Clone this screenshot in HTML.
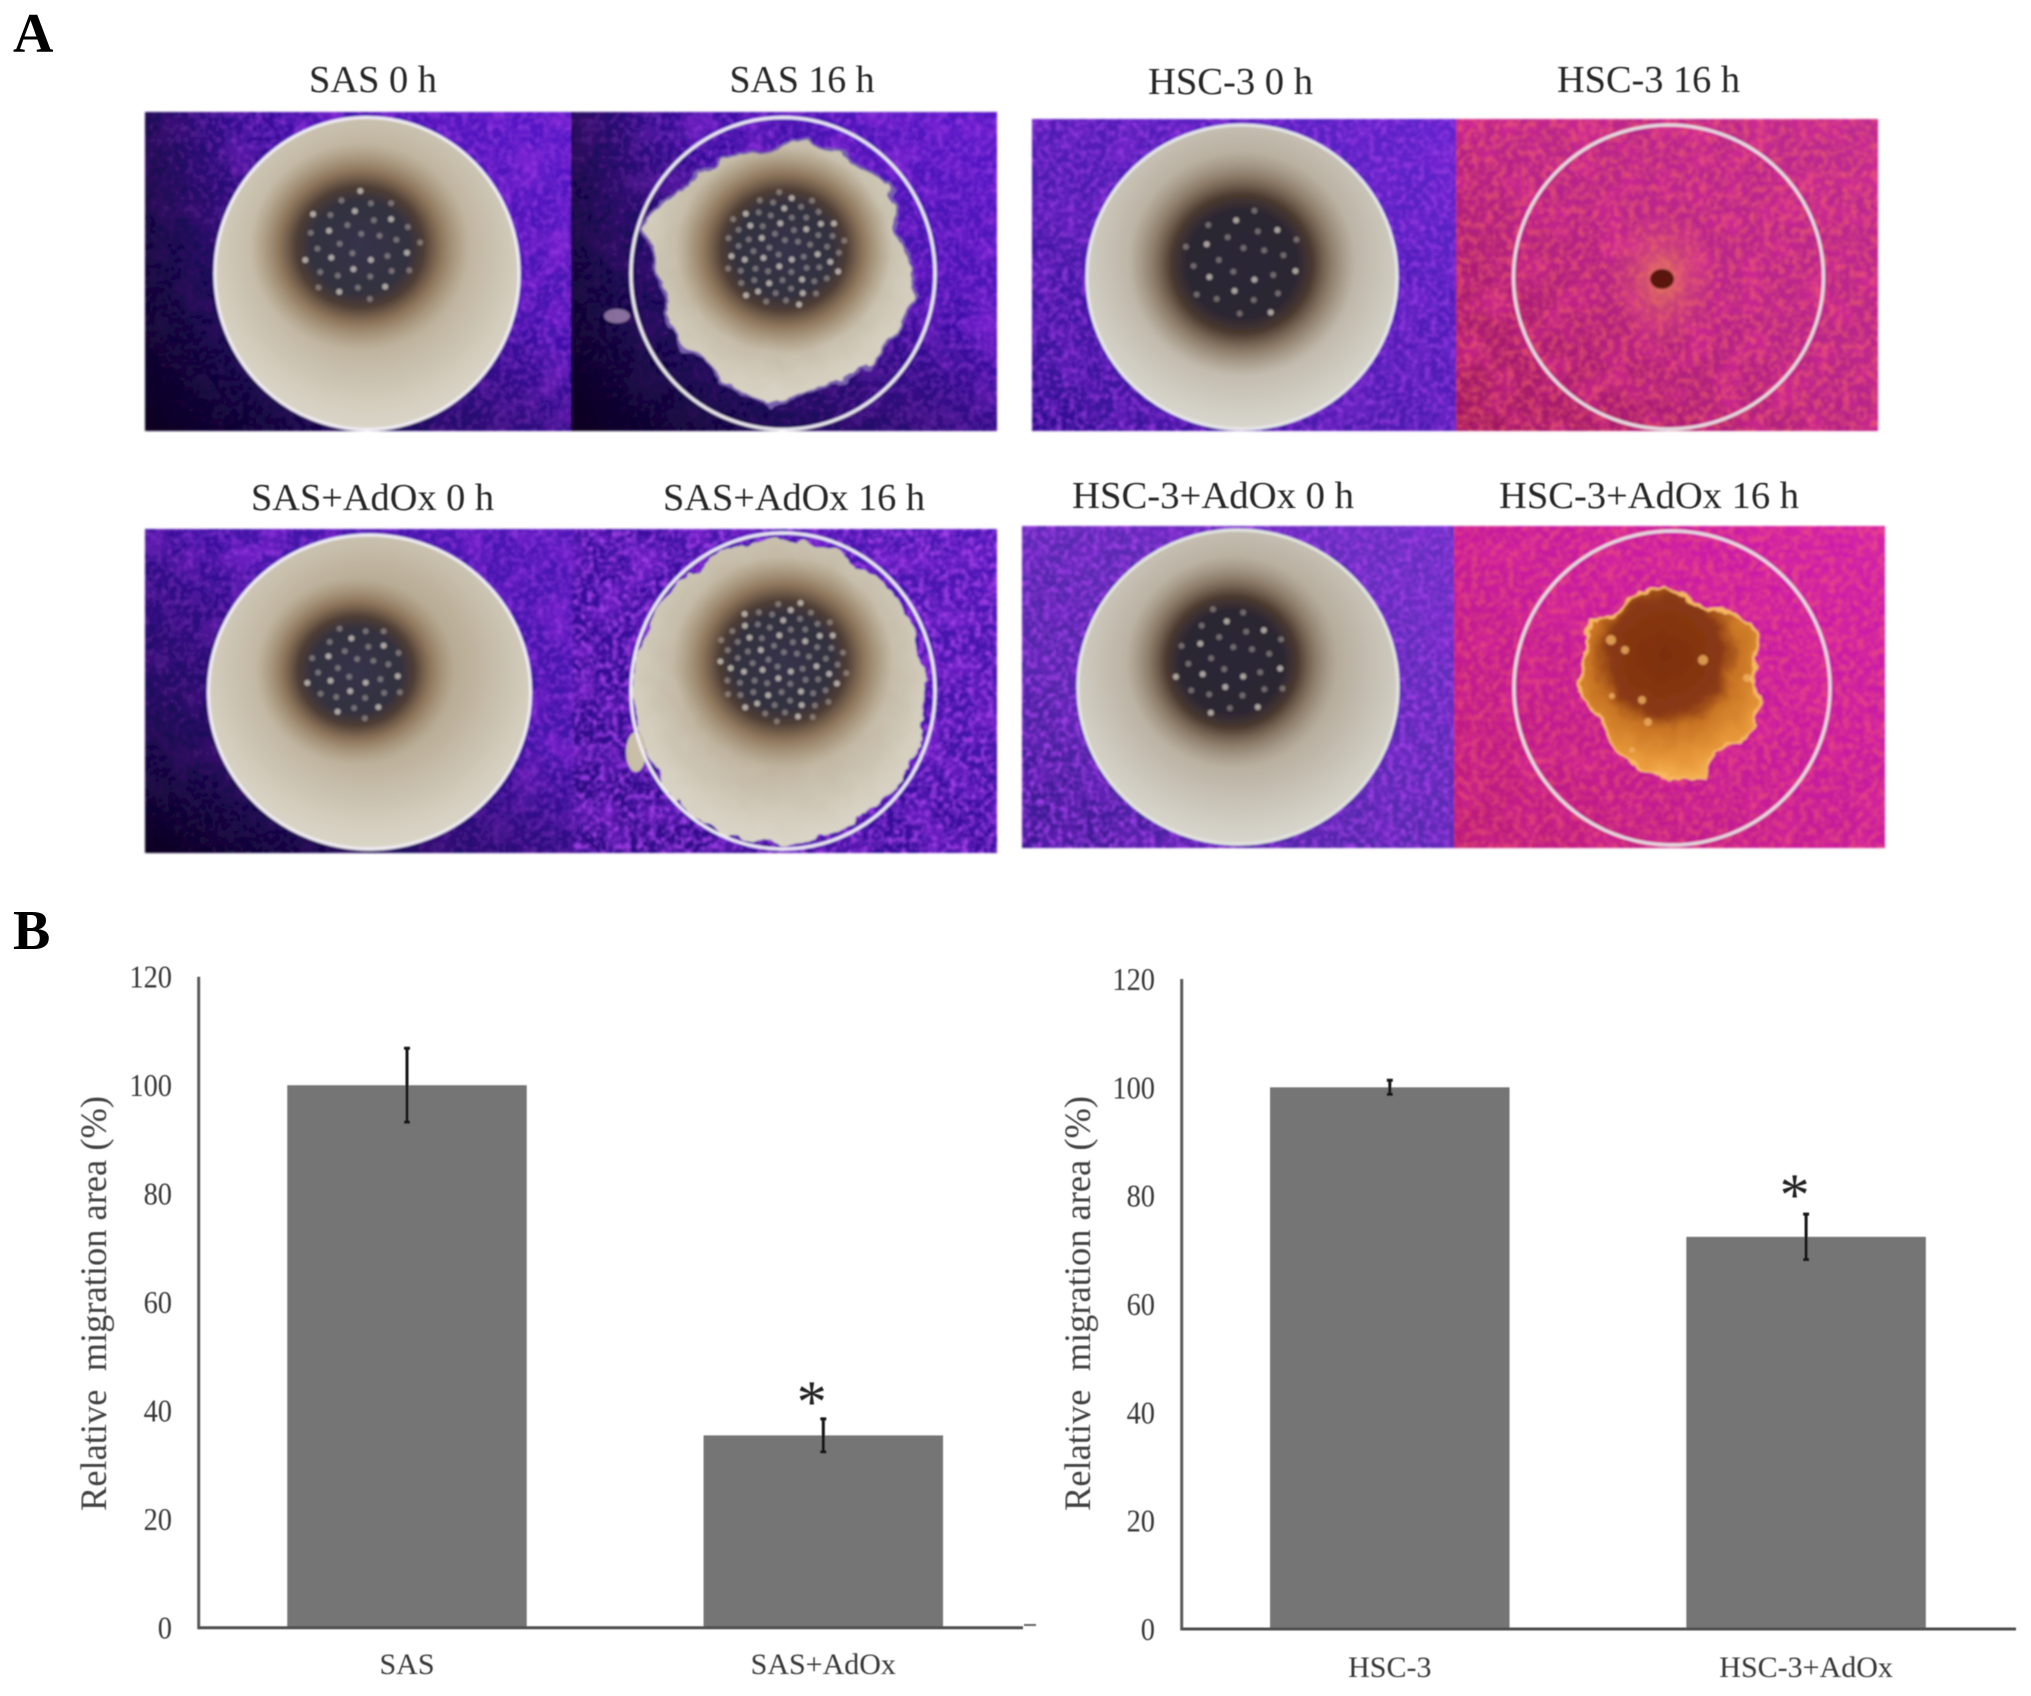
<!DOCTYPE html>
<html lang="en">
<head>
<meta charset="utf-8">
<title>Migration assay figure</title>
<style>
html,body{margin:0;padding:0;background:#fff;}
svg{display:block;}
text{font-family:"Liberation Serif",serif;}
</style>
</head>
<body>
<svg id="fig" xmlns="http://www.w3.org/2000/svg" width="2031" height="1696" viewBox="0 0 2031 1696">
<defs>
  <linearGradient id="bgSas" x1="0" y1=".85" x2=".95" y2=".15">
    <stop offset="0" stop-color="#240a78"/><stop offset=".35" stop-color="#320c90"/><stop offset=".7" stop-color="#4010a8"/><stop offset="1" stop-color="#5518c4"/>
  </linearGradient>
  <linearGradient id="bgSas2" x1="0" y1="1" x2="1" y2="0">
    <stop offset="0" stop-color="#2a0a80"/><stop offset=".4" stop-color="#380e9a"/><stop offset="1" stop-color="#4e18b8"/>
  </linearGradient>
  <linearGradient id="bgHsc" x1="0" y1="1" x2="1" y2="0">
    <stop offset="0" stop-color="#300e90"/><stop offset=".4" stop-color="#4d1cae"/><stop offset="1" stop-color="#5e22cc"/>
  </linearGradient>
  <linearGradient id="bgHsc2" x1="0" y1="1" x2="1" y2="0">
    <stop offset="0" stop-color="#3a1690"/><stop offset=".3" stop-color="#5226a8"/><stop offset="1" stop-color="#6a30c4"/>
  </linearGradient>
  <linearGradient id="bgPink" x1="0" y1="1" x2="1" y2="0">
    <stop offset="0" stop-color="#a01860"/><stop offset=".5" stop-color="#b82488"/><stop offset="1" stop-color="#bd2a90"/>
  </linearGradient>
  <linearGradient id="bgPink2" x1="0" y1="1" x2="1" y2="0">
    <stop offset="0" stop-color="#bb1c78"/><stop offset=".5" stop-color="#c61c9c"/><stop offset="1" stop-color="#d020ac"/>
  </linearGradient>
  <linearGradient id="vig" x1="0" y1="1" x2=".55" y2=".35">
    <stop offset="0" stop-color="#060118" stop-opacity=".95"/><stop offset=".5" stop-color="#0a0330" stop-opacity=".5"/><stop offset="1" stop-color="#0a0330" stop-opacity="0"/>
  </linearGradient>
  <linearGradient id="vigLeft" x1="0" y1="0" x2="1" y2="0">
    <stop offset="0" stop-color="#08021e" stop-opacity=".5"/><stop offset=".2" stop-color="#0a0330" stop-opacity=".15"/><stop offset=".35" stop-color="#0a0330" stop-opacity="0"/>
  </linearGradient>
  <radialGradient id="wellFill" cx=".5" cy=".42" r=".62">
    <stop offset="0" stop-color="#a08c70"/><stop offset=".5" stop-color="#bdb19c"/><stop offset=".8" stop-color="#d3cdbd"/><stop offset="1" stop-color="#dedacd"/>
  </radialGradient>
  <radialGradient id="wellFillGrey" cx=".5" cy=".42" r=".62">
    <stop offset="0" stop-color="#958674"/><stop offset=".5" stop-color="#b6ac9c"/><stop offset=".8" stop-color="#cfcbc0"/><stop offset="1" stop-color="#dedcd4"/>
  </radialGradient>
  <radialGradient id="core">
    <stop offset="0" stop-color="#35344a"/><stop offset=".44" stop-color="#33303f"/><stop offset=".58" stop-color="#4e3d35"/><stop offset=".74" stop-color="#846a4e" stop-opacity=".8"/><stop offset="1" stop-color="#a08c70" stop-opacity="0"/>
  </radialGradient>
  <radialGradient id="coreHsc">
    <stop offset="0" stop-color="#2c2836"/><stop offset=".48" stop-color="#2c2632"/><stop offset=".62" stop-color="#4a392f"/><stop offset=".78" stop-color="#7a6652" stop-opacity=".7"/><stop offset="1" stop-color="#958674" stop-opacity="0"/>
  </radialGradient>
  <radialGradient id="blobFill" gradientUnits="userSpaceOnUse" cx="1665" cy="655" r="125">
    <stop offset="0" stop-color="#7c2e10"/><stop offset=".46" stop-color="#8a3a12"/><stop offset=".6" stop-color="#c87424"/><stop offset=".85" stop-color="#e8983a"/><stop offset="1" stop-color="#f4b050"/>
  </radialGradient>
  <radialGradient id="halo">
    <stop offset="0" stop-color="#f09050" stop-opacity=".8"/><stop offset=".5" stop-color="#e87060" stop-opacity=".3"/><stop offset="1" stop-color="#e87060" stop-opacity="0"/>
  </radialGradient>
  <filter id="speckleViolet" x="0" y="0" width="1" height="1" color-interpolation-filters="sRGB">
    <feTurbulence type="fractalNoise" baseFrequency="0.16" numOctaves="2" seed="4"/>
    <feColorMatrix type="matrix" values="0 0 0 0 .62  0 0 0 0 .25  0 0 0 0 .9  2.8 0 0 0 -1.15"/>
  </filter>
  <filter id="speckleOrange" x="0" y="0" width="1" height="1" color-interpolation-filters="sRGB">
    <feTurbulence type="fractalNoise" baseFrequency="0.14" numOctaves="2" seed="9"/>
    <feColorMatrix type="matrix" values="0 0 0 0 1  0 0 0 0 .42  0 0 0 0 .4  3 0 0 0 -1.2"/>
  </filter>
  <filter id="mottleViolet" x="0" y="0" width="1" height="1" color-interpolation-filters="sRGB">
    <feTurbulence type="fractalNoise" baseFrequency="0.035" numOctaves="2" seed="21"/>
    <feColorMatrix type="matrix" values="0 0 0 0 .55  0 0 0 0 .16  0 0 0 0 .85  3 0 0 0 -1.3"/>
  </filter>
  <filter id="mottleOrange" x="0" y="0" width="1" height="1" color-interpolation-filters="sRGB">
    <feTurbulence type="fractalNoise" baseFrequency="0.035" numOctaves="2" seed="12"/>
    <feColorMatrix type="matrix" values="0 0 0 0 .88  0 0 0 0 .18  0 0 0 0 .6  3 0 0 0 -1.3"/>
  </filter>
  <filter id="rough" x="-5%" y="-5%" width="110%" height="110%">
    <feTurbulence type="fractalNoise" baseFrequency="0.045" numOctaves="3" seed="3" result="n"/>
    <feDisplacementMap in="SourceGraphic" in2="n" scale="16" xChannelSelector="R" yChannelSelector="G"/>
  </filter>
  <filter id="soft" x="-2%" y="-2%" width="104%" height="104%"><feGaussianBlur stdDeviation="1.1"/></filter>
  <filter id="softText" x="-5%" y="-20%" width="110%" height="140%"><feGaussianBlur stdDeviation="0.5"/></filter>
</defs>

<text x="13" y="52" font-size="56" font-weight="700" fill="#000">A</text>
<text x="13" y="949" font-size="56" font-weight="700" fill="#000">B</text>

<g filter="url(#softText)" font-size="38" fill="#262626">
  <text x="309" y="92" textLength="128" lengthAdjust="spacingAndGlyphs">SAS 0 h</text>
  <text x="729.5" y="92" textLength="145" lengthAdjust="spacingAndGlyphs">SAS 16 h</text>
  <text x="251" y="510" textLength="243" lengthAdjust="spacingAndGlyphs">SAS+AdOx 0 h</text>
  <text x="663" y="510" textLength="262" lengthAdjust="spacingAndGlyphs">SAS+AdOx 16 h</text>
  <text x="1148" y="94" textLength="165" lengthAdjust="spacingAndGlyphs">HSC-3 0 h</text>
  <text x="1557" y="92" textLength="183" lengthAdjust="spacingAndGlyphs">HSC-3 16 h</text>
  <text x="1072" y="508" textLength="282" lengthAdjust="spacingAndGlyphs">HSC-3+AdOx 0 h</text>
  <text x="1499" y="508" textLength="300" lengthAdjust="spacingAndGlyphs">HSC-3+AdOx 16 h</text>
</g>

<g id="photos" filter="url(#soft)">
  <g>
    <rect x="145" y="112" width="426" height="319" fill="url(#bgSas)"/>
    <rect x="145" y="112" width="426" height="319" filter="url(#mottleViolet)" opacity=".6"/>
    <rect x="145" y="112" width="426" height="319" filter="url(#speckleViolet)" opacity=".6"/>
    <rect x="145" y="112" width="426" height="319" fill="url(#vig)"/>
    <rect x="145" y="112" width="426" height="319" fill="url(#vigLeft)"/>
    <ellipse cx="367" cy="273.5" rx="152" ry="156" fill="url(#wellFill)"/>
    <ellipse cx="360" cy="247" rx="110" ry="104" fill="url(#core)"/>
    <ellipse cx="367" cy="273.5" rx="152" ry="156" fill="none" stroke="#f2eef6" stroke-width="3"/>
  </g>
  <g>
    <rect x="571" y="112" width="426" height="319" fill="url(#bgSas)"/>
    <rect x="571" y="112" width="426" height="319" filter="url(#mottleViolet)" opacity=".6"/>
    <rect x="571" y="112" width="426" height="319" filter="url(#speckleViolet)" opacity=".6"/>
    <rect x="571" y="112" width="426" height="319" fill="url(#vig)"/>
    <rect x="571" y="112" width="426" height="319" fill="url(#vigLeft)"/>
    <ellipse cx="617" cy="316" rx="13" ry="7" fill="#b79ac0" opacity=".7"/>
    <polygon filter="url(#rough)" points="644,216 686,185 718,160 796,140 841,152 887,185 896,219 913,269 913,297 893,337 867,370 822,387 770,404 731,387 686,348 667,320 660,269 647,241" fill="url(#wellFill)" stroke="#7a60b0" stroke-width="3"/>
    <ellipse cx="784" cy="250" rx="108" ry="104" fill="url(#core)"/>
    <ellipse cx="783" cy="273.5" rx="152" ry="156" fill="none" stroke="#f2eef6" stroke-width="3"/>
  </g>
  <g>
    <rect x="145" y="529" width="428" height="324" fill="url(#bgSas2)"/>
    <rect x="145" y="529" width="428" height="324" filter="url(#mottleViolet)" opacity=".6"/>
    <rect x="145" y="529" width="428" height="324" filter="url(#speckleViolet)" opacity=".6"/>
    <rect x="145" y="529" width="428" height="324" fill="url(#vig)"/>
    <ellipse cx="369.5" cy="692" rx="161" ry="157" fill="url(#wellFill)"/>
    <ellipse cx="356" cy="671" rx="100" ry="94" fill="url(#core)"/>
    <ellipse cx="369.5" cy="692" rx="161" ry="157" fill="none" stroke="#f2eef6" stroke-width="3"/>
  </g>
  <g>
    <rect x="573" y="529" width="424" height="324" fill="url(#bgSas2)"/>
    <rect x="573" y="529" width="424" height="324" filter="url(#mottleViolet)" opacity=".6"/>
    <rect x="573" y="529" width="424" height="324" filter="url(#speckleViolet)" opacity=".95"/>
    <ellipse cx="781" cy="692" rx="146" ry="152" fill="url(#wellFill)" filter="url(#rough)"/>
    <ellipse cx="636" cy="752" rx="10" ry="20" fill="#c9bfa9"/>
    <ellipse cx="783" cy="662" rx="110" ry="106" fill="url(#core)"/>
    <ellipse cx="783" cy="691" rx="152" ry="158" fill="none" stroke="#f2eef6" stroke-width="3"/>
  </g>
  <g>
    <rect x="1032" y="119" width="424" height="312" fill="url(#bgHsc)"/>
    <rect x="1032" y="119" width="424" height="312" filter="url(#mottleViolet)" opacity=".4"/>
    <rect x="1032" y="119" width="424" height="312" filter="url(#speckleViolet)" opacity=".7"/>
    <ellipse cx="1242" cy="277" rx="155" ry="152" fill="url(#wellFillGrey)"/>
    <ellipse cx="1242" cy="264" rx="114" ry="112" fill="url(#coreHsc)"/>
    <ellipse cx="1242" cy="277" rx="155" ry="152" fill="none" stroke="#e8e8ea" stroke-width="3"/>
  </g>
  <g>
    <rect x="1456" y="119" width="422" height="312" fill="url(#bgPink)"/>
    <rect x="1456" y="119" width="422" height="312" filter="url(#mottleOrange)" opacity=".5"/>
    <rect x="1456" y="119" width="422" height="312" filter="url(#speckleOrange)" opacity=".48"/>
    <ellipse cx="1662" cy="279" rx="55" ry="70" fill="url(#halo)"/>
    <ellipse cx="1662" cy="279" rx="12" ry="10" fill="#5a1408"/>
    <ellipse cx="1668.5" cy="277" rx="155" ry="152" fill="none" stroke="#e8e0e8" stroke-width="3"/>
  </g>
  <g>
    <rect x="1022" y="526" width="432" height="322" fill="url(#bgHsc2)"/>
    <rect x="1022" y="526" width="432" height="322" filter="url(#mottleViolet)" opacity=".4"/>
    <rect x="1022" y="526" width="432" height="322" filter="url(#speckleViolet)" opacity=".9"/>
    <ellipse cx="1238" cy="687" rx="160" ry="157" fill="url(#wellFillGrey)"/>
    <ellipse cx="1232" cy="662" rx="106" ry="106" fill="url(#coreHsc)"/>
    <ellipse cx="1238" cy="687" rx="160" ry="157" fill="none" stroke="#e4e6e0" stroke-width="3"/>
  </g>
  <g>
    <rect x="1454" y="526" width="431" height="322" fill="url(#bgPink2)"/>
    <rect x="1454" y="526" width="431" height="322" filter="url(#mottleOrange)" opacity=".4"/>
    <rect x="1454" y="526" width="431" height="322" filter="url(#speckleOrange)" opacity=".4"/>
    <polygon filter="url(#rough)" points="1592,623 1637,595 1663,586 1702,606 1747,623 1760,645 1753,673 1757,724 1715,752 1702,780 1657,777 1618,752 1605,724 1579,690 1585,657 1589,634" fill="url(#blobFill)" stroke="#f8b860" stroke-width="3"/>
    <g fill="#f0b060" opacity=".8">
      <circle cx="1611" cy="640" r="5"/><circle cx="1625" cy="650" r="4"/><circle cx="1703" cy="660" r="5"/>
      <circle cx="1612" cy="696" r="3"/><circle cx="1642" cy="700" r="4"/><circle cx="1747" cy="678" r="4"/>
      <circle cx="1648" cy="722" r="4"/><circle cx="1632" cy="750" r="3"/>
    </g>
    <ellipse cx="1672" cy="688" rx="158" ry="157" fill="none" stroke="#e8e0e8" stroke-width="3"/>
  </g>
  <g id="spots"></g>
</g>

<g id="charts" filter="url(#softText)"></g>
</svg>

<script>
// Chart data: left chart (SAS)
const sasCategories = ['SAS', 'SAS+AdOx'];
const sasValues = [100, 35.45];
const sasErrors = [6.8, 3.05];
const sasSignificant = [false, true];
// Chart data: right chart (HSC-3)
const hscCategories = ['HSC-3', 'HSC-3+AdOx'];
const hscValues = [100, 72.4];
const hscErrors = [1.3, 4.2];
const hscSignificant = [false, true];
// Shared axis
const tickLabels = [0, 20, 40, 60, 80, 100, 120];
const axisMax = 120;
const yTitle = 'Relative\u00A0\u00A0migration area (%)';

const NS = 'http://www.w3.org/2000/svg';
const chartsRoot = document.getElementById('charts');

function mk(parent, tag, attrs) {
  const el = document.createElementNS(NS, tag);
  for (const k in attrs) el.setAttribute(k, attrs[k]);
  parent.appendChild(el);
  return el;
}

function drawChart(cfg, categories, values, errors, significant) {
  const yScale = v => cfg.zeroY - v * (cfg.zeroY - cfg.topY) / axisMax;
  const xCenter = i => cfg.firstCenter + i * cfg.step;

  const g = mk(chartsRoot, 'g', {});
  
  

  categories.forEach((cat, i) => {
    const bar = mk(g, 'rect', {
      x: xCenter(i) - cfg.barW / 2, y: yScale(values[i]),
      width: cfg.barW, height: yScale(0) - yScale(values[i]), fill: '#747474'
    });
    
    
  });

  const yAxis = mk(g, 'line', { x1: cfg.axisX, x2: cfg.axisX, y1: cfg.topY, y2: cfg.zeroY + 1.5, stroke: '#5a5a5a', 'stroke-width': 3 });
  
  
  const xAxis = mk(g, 'line', { x1: cfg.axisX, x2: cfg.axisEnd, y1: cfg.zeroY, y2: cfg.zeroY, stroke: '#505050', 'stroke-width': 3 });
  
  

  tickLabels.forEach(t => {
    const s = String(t);
    const tl = mk(g, 'text', {
      x: cfg.tickRight - s.length * 14.2, y: yScale(t) + cfg.tickDy,
      textLength: s.length * 14.2, lengthAdjust: 'spacingAndGlyphs', 'font-size': 32, fill: '#383838'
    });
    tl.textContent = s;
    
    
  });

  const title = mk(g, 'text', {
    transform: 'translate(' + cfg.titleX + ',1511) rotate(-90)',
    textLength: 415, lengthAdjust: 'spacingAndGlyphs', 'font-size': 37, fill: '#424242'
  });
  title.textContent = yTitle;
  
  

  categories.forEach((cat, i) => {
    const lbl = mk(g, 'text', { x: xCenter(i), y: cfg.labelY, 'text-anchor': 'middle', 'font-size': 30, fill: '#383838' });
    lbl.textContent = cat;
    
    

    const top = yScale(values[i] + errors[i]);
    const bottom = yScale(values[i] - errors[i]);
    const err = mk(g, 'path', {
      d: 'M' + (xCenter(i) - 3) + ' ' + top + 'H' + (xCenter(i) + 3) +
         'M' + xCenter(i) + ' ' + top + 'V' + bottom +
         'M' + (xCenter(i) - 3) + ' ' + bottom + 'H' + (xCenter(i) + 3),
      stroke: '#161616', 'stroke-width': 3, fill: 'none'
    });
    
    

    if (significant[i]) {
      const star = mk(g, 'text', { x: xCenter(i) - 11.5, y: top + cfg.starDy, 'text-anchor': 'middle', 'font-size': 60, fill: '#222' });
      star.textContent = '*';
      
      
    }
  });
}

drawChart({ name: 'chart-sas', zeroY: 1627.7, topY: 976.7, axisX: 198.7, axisEnd: 1023, firstCenter: 407, step: 416.3, barW: 239.5, tickRight: 172, tickDy: 11, titleX: 106, labelY: 1674, starDy: 3 },
  sasCategories, sasValues, sasErrors, sasSignificant);
drawChart({ name: 'chart-hsc3', zeroY: 1629, topY: 979, axisX: 1181.7, axisEnd: 2016, firstCenter: 1389.8, step: 416.3, barW: 239.5, tickRight: 1155, tickDy: 11, titleX: 1090, labelY: 1677, starDy: 1 },
  hscCategories, hscValues, hscErrors, hscSignificant);

const dash = mk(chartsRoot, 'line', { x1: 1024, x2: 1036, y1: 1625, y2: 1625, stroke: '#666', 'stroke-width': 2 });



// Decorative bright spots in each photo core (sunflower placement, not chart data)
const spotGroups = [
  [360, 247, 62, 56, 36], [784, 250, 62, 58, 70], [356, 671, 52, 48, 32],
  [783, 662, 66, 62, 80], [1242, 264, 60, 58, 26], [1232, 662, 58, 58, 30]
];
const spotsRoot = document.getElementById('spots');
spotGroups.forEach(s => {
  for (let k = 1; k <= s[4]; k++) {
    const a = k * 2.39996;
    const r = Math.sqrt(k / s[4]);
    const dot = mk(spotsRoot, 'circle', {
      cx: s[0] + Math.cos(a) * r * s[2], cy: s[1] + Math.sin(a) * r * s[3],
      r: 3, fill: '#d4cec4', opacity: k % 3 === 0 ? .75 : .4
    });
    
    
  }
});
</script>
</body>
</html>
